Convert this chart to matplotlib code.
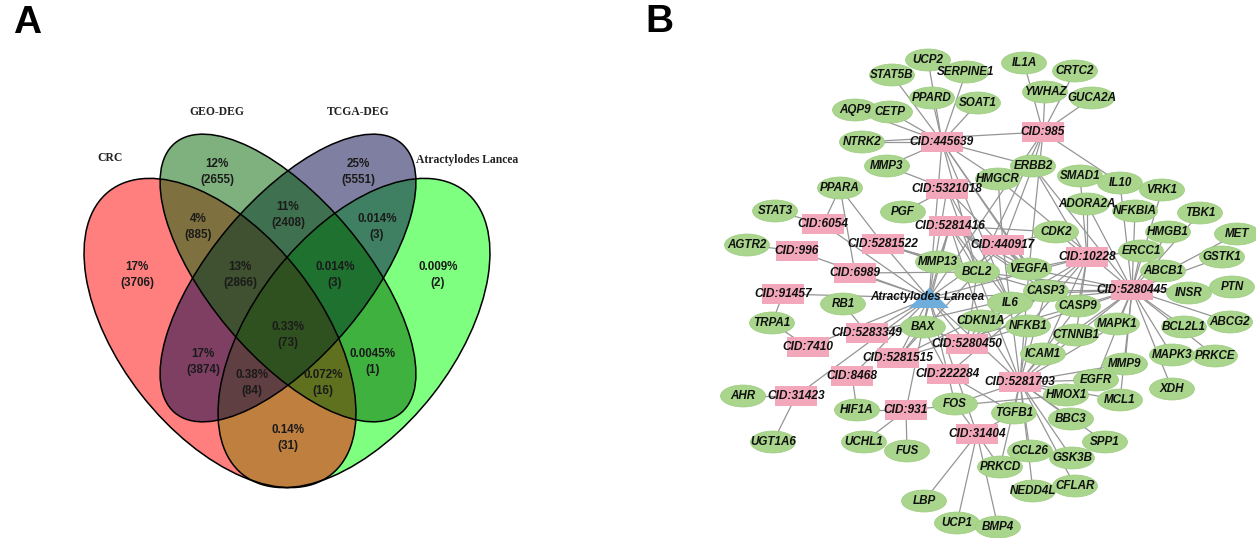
import numpy as np
import matplotlib.pyplot as plt
from matplotlib.patches import Ellipse, Rectangle, Polygon

# ---------------- Venn data (panel A) ----------------
set_names = ["CRC", "GEO-DEG", "TCGA-DEG", "Atractylodes Lancea"]
set_colors = ["#FF0000", "#006400", "#000046", "#00FF00"]

region_pct = ["17%", "12%", "25%", "0.009%", "4%", "11%", "0.014%", "13%",
              "0.014%", "0.33%", "17%", "0.0045%", "0.38%", "0.072%", "0.14%"]
region_cnt = [3706, 2655, 5551, 2, 885, 2408, 3, 2866, 3, 73, 3874, 1, 84, 16, 31]

# ---------------- network data (panel B) ----------------
herb = "Atractylodes Lancea"
compounds = ["CID:445639", "CID:985", "CID:5321018", "CID:5281416", "CID:6054",
             "CID:996", "CID:5281522", "CID:440917", "CID:10228", "CID:6989",
             "CID:5280445", "CID:91457", "CID:5283349", "CID:7410", "CID:5280450",
             "CID:5281515", "CID:222284", "CID:8468", "CID:5281703", "CID:31423",
             "CID:931", "CID:31404"]

links = {
    "CID:445639": ["STAT5B", "UCP2", "PPARD", "SERPINE1", "SOAT1", "CETP", "AQP9", "NTRK2",
                   "MMP3", "HMGCR", "ERBB2", "BCL2", "CASP3", "VEGFA", "IL6"],
    "CID:985": ["IL1A", "YWHAZ", "CRTC2", "GUCA2A", "ERBB2", "IL10", "VEGFA", "BCL2", "NTRK2"],
    "CID:5321018": ["PGF", "MMP3", "HMGCR", "BCL2", "CASP3", "IL6"],
    "CID:5281416": ["MMP13", "BCL2", "CDK2", "VEGFA", "CASP3", "CASP9", "BAX", "IL6", "CDKN1A"],
    "CID:6054": ["STAT3", "PPARA"],
    "CID:996": ["AGTR2"],
    "CID:5281522": ["PPARA", "BCL2", "CASP3", "MMP13"],
    "CID:440917": ["BCL2", "VEGFA", "CDK2", "HMGCR", "CASP3", "IL6", "ERBB2"],
    "CID:10228": ["CDK2", "ERCC1", "VEGFA", "CASP3", "CASP9", "ADORA2A", "IL6", "NFKB1",
                  "ERBB2", "SMAD1", "CTNNB1", "ICAM1"],
    "CID:6989": ["PPARA", "BCL2"],
    "CID:5280445": ["ADORA2A", "NFKBIA", "HMGB1", "TBK1", "MET", "GSTK1", "ABCB1", "INSR",
                    "PTN", "ABCG2", "BCL2L1", "MAPK3", "PRKCE", "XDH", "MAPK1", "MMP9",
                    "CASP9", "CASP3", "VEGFA", "CTNNB1", "ERCC1", "VRK1", "IL10", "EGFR",
                    "MCL1", "BCL2", "IL6", "NFKB1", "ICAM1", "HMGCR", "ERBB2"],
    "CID:91457": ["TRPA1"],
    "CID:5283349": ["RB1", "BAX", "CASP3"],
    "CID:7410": ["TRPA1"],
    "CID:5280450": ["CDKN1A", "IL6", "NFKB1", "BCL2", "BAX", "CASP3"],
    "CID:5281515": ["BAX", "BCL2", "CASP9", "IL6"],
    "CID:222284": ["FOS", "TGFB1", "BAX", "CASP3"],
    "CID:8468": ["HIF1A"],
    "CID:5281703": ["ICAM1", "TGFB1", "EGFR", "HMOX1", "MCL1", "BBC3", "SPP1", "CCL26",
                    "GSK3B", "CFLAR", "NEDD4L", "PRKCD", "NFKB1", "CTNNB1", "MAPK1",
                    "MMP9", "CASP9", "CASP3", "IL6", "FOS", "BCL2", "VEGFA", "CDKN1A"],
    "CID:31423": ["AHR", "UGT1A6"],
    "CID:931": ["HIF1A", "UCHL1", "FUS", "HMOX1"],
    "CID:31404": ["LBP", "UCP1", "BMP4", "PRKCD", "TGFB1", "FOS"],
}

# ---------------- layout (pixel positions) ----------------
venn_shapes = [  # centre x, centre y, width, height, angle
    (220, 333, 360, 200, 52),
    (288, 278, 352, 156, 50),
    (288, 278, 352, 156, -50),
    (354, 333, 360, 200, -52),
]
venn_label_xy = [(110, 158), (217, 112), (358, 112), (467, 160)]
region_xy = [(137, 275), (217, 172), (358, 172), (438, 275), (198, 227), (288, 215),
             (377, 227), (240, 275), (335, 275), (288, 335), (203, 362), (373, 362),
             (252, 383), (323, 383), (288, 438)]

pos = {
    herb: (929, 298),
    "CID:445639": (942, 142), "CID:985": (1043, 132), "CID:5321018": (947, 189),
    "CID:5281416": (950, 226), "CID:6054": (823, 224), "CID:996": (797, 251),
    "CID:5281522": (883, 244), "CID:440917": (1003, 245), "CID:10228": (1087, 257),
    "CID:6989": (855, 273), "CID:5280445": (1132, 290), "CID:91457": (783, 294),
    "CID:5283349": (867, 333), "CID:7410": (808, 347), "CID:5280450": (967, 344),
    "CID:5281515": (898, 358), "CID:222284": (948, 374), "CID:8468": (852, 376),
    "CID:5281703": (1020, 382), "CID:31423": (796, 396), "CID:931": (906, 410),
    "CID:31404": (977, 434),
    "UCP2": (928, 60), "STAT5B": (892, 75), "SERPINE1": (966, 72), "PPARD": (932, 98),
    "SOAT1": (978, 103), "AQP9": (855, 110), "CETP": (890, 112), "NTRK2": (862, 142),
    "MMP3": (887, 166), "HMGCR": (998, 179), "PPARA": (840, 188), "STAT3": (775, 211),
    "PGF": (903, 212), "IL1A": (1024, 63), "CRTC2": (1075, 71), "YWHAZ": (1045, 92),
    "GUCA2A": (1092, 98), "ERBB2": (1033, 166), "SMAD1": (1080, 176), "IL10": (1120, 183),
    "VRK1": (1162, 190), "ADORA2A": (1087, 204), "NFKBIA": (1135, 211), "TBK1": (1200, 213),
    "AGTR2": (747, 245), "MMP13": (938, 262), "BCL2": (977, 272), "RB1": (843, 304),
    "TRPA1": (772, 323), "CDKN1A": (981, 321), "BAX": (923, 327), "CDK2": (1056, 232),
    "ERCC1": (1141, 251), "HMGB1": (1168, 232), "MET": (1237, 234), "GSTK1": (1222, 257),
    "ABCB1": (1163, 271), "VEGFA": (1029, 269), "INSR": (1189, 293), "PTN": (1232, 287),
    "CASP3": (1046, 291), "IL6": (1010, 303), "CASP9": (1078, 306), "MAPK1": (1117, 324),
    "NFKB1": (1028, 326), "BCL2L1": (1184, 327), "ABCG2": (1230, 322), "CTNNB1": (1076, 335),
    "ICAM1": (1043, 354), "MAPK3": (1172, 355), "PRKCE": (1215, 356), "MMP9": (1125, 364),
    "AHR": (743, 396), "HIF1A": (857, 410), "FOS": (955, 404), "UGT1A6": (773, 442),
    "UCHL1": (864, 442), "FUS": (907, 451), "LBP": (924, 501), "UCP1": (957, 523),
    "BMP4": (998, 527), "EGFR": (1096, 380), "HMOX1": (1066, 395), "MCL1": (1120, 400),
    "XDH": (1172, 389), "TGFB1": (1014, 413), "BBC3": (1071, 419), "SPP1": (1105, 442),
    "CCL26": (1030, 451), "GSK3B": (1072, 458), "PRKCD": (1000, 467), "NEDD4L": (1033, 491),
    "CFLAR": (1075, 486),
}

W, H = 1256, 538
fig = plt.figure(figsize=(W / 100, H / 100), dpi=100)
ax = fig.add_axes([0, 0, 1, 1])
ax.set_xlim(0, W)
ax.set_ylim(H, 0)
ax.axis("off")

sans = ["Liberation Sans", "DejaVu Sans"]
serif = ["Liberation Serif", "DejaVu Serif"]

# ---- panel A: Venn ----
draw_order = [3, 0, 2, 1]
for i in draw_order:
    cx, cy, w, h, ang = venn_shapes[i]
    ax.add_patch(Ellipse((cx, cy), w, h, angle=ang, facecolor=set_colors[i],
                         alpha=0.5, edgecolor="none", zorder=1))
for i in range(4):
    cx, cy, w, h, ang = venn_shapes[i]
    ax.add_patch(Ellipse((cx, cy), w, h, angle=ang, facecolor="none",
                         edgecolor="black", lw=1.1, zorder=2))
    lx, ly = venn_label_xy[i]
    ax.text(lx, ly, set_names[i], ha="center", va="center", fontsize=8.4,
            fontweight="bold", family=serif, color="#222222", zorder=3)

for (x, y), p, c in zip(region_xy, region_pct, region_cnt):
    ax.text(x, y, p + "\n(" + str(c) + ")", ha="center", va="center", fontsize=8.4,
            fontweight="bold", family=sans, color="#1a1a1a", linespacing=1.5, zorder=3)

# ---- panel B: network ----
edge_col = "#959595"
for c in compounds:
    x0, y0 = pos[herb]
    x1, y1 = pos[c]
    ax.plot([x0, x1], [y0, y1], color=edge_col, lw=0.9, zorder=4)
    for t in links[c]:
        x2, y2 = pos[t]
        ax.plot([x1, x2], [y1, y2], color=edge_col, lw=0.9, zorder=4)

targets = [k for k in pos if k != herb and k not in compounds]
for t in targets:
    x, y = pos[t]
    ax.add_patch(Ellipse((x, y), 45, 22, facecolor="#A9D68C", edgecolor="#9CCB80",
                         lw=0.5, zorder=5))
    ax.text(x, y, t, ha="center", va="center", fontsize=8.4, style="italic",
            fontweight="bold", family=sans, color="#111111", zorder=7)

for c in compounds:
    x, y = pos[c]
    ax.add_patch(Rectangle((x - 21, y - 10), 42, 20, facecolor="#F3A7BA",
                           edgecolor="none", zorder=5))
    ax.text(x, y, c, ha="center", va="center", fontsize=8.6, style="italic",
            fontweight="bold", family=sans, color="#111111", zorder=7)

hx, hy = pos[herb]
ax.add_patch(Polygon([(hx - 20, hy + 10), (hx + 20, hy + 10), (hx, hy - 10)],
                     closed=True, facecolor="#6FAEDC", edgecolor="none", zorder=6))
ax.text(hx - 2, hy - 1, herb, ha="center", va="center", fontsize=8.4, style="italic",
        fontweight="bold", family=sans, color="#111111", zorder=7)

# panel letters
ax.text(27, 23, "A", ha="center", va="center", fontsize=28, fontweight="bold",
        family=sans)
ax.text(659, 22, "B", ha="center", va="center", fontsize=28, fontweight="bold",
        family=sans)

fig.savefig("out.png", dpi=100)
